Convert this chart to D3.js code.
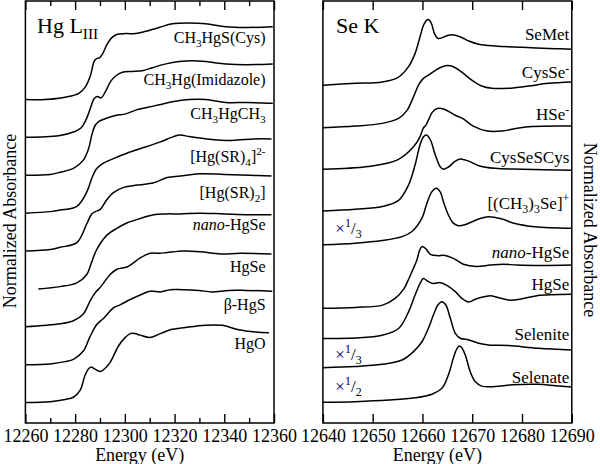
<!DOCTYPE html>
<html><head><meta charset="utf-8">
<script src="https://cdn.jsdelivr.net/npm/d3@7"></script>
<style>
body{margin:0;background:#fff}
svg{display:block}
text{font-family:"Liberation Serif","Times New Roman",Times,serif;fill:#000}
</style>
</head><body>
<svg id="c" width="600" height="464"></svg>
<script>
// ---------------- Hg L_III panel data: [energy (eV), normalized absorbance] ----------------
const hgCys   = [[12260,0],[12268,0.00],[12276,0.03],[12281.5,0.08],[12284.2,0.17],[12286.2,0.32],[12287.6,0.50],[12288.6,0.54],[12289.8,0.55],[12291,0.60],[12292.9,0.73],[12294.9,0.82],[12297,0.86],[12300.3,0.87],[12304.4,0.87],[12308.4,0.90],[12313.8,0.95],[12319.1,1.00],[12325.9,1.01],[12332.6,1.00],[12340.6,0.96],[12348.7,0.95],[12359.5,0.96]];
const hgImid  = [[12260,0],[12273.4,0.02],[12279.3,0.07],[12282.2,0.12],[12284.2,0.22],[12286.2,0.39],[12287.6,0.51],[12288.9,0.54],[12290.4,0.52],[12292.3,0.61],[12294.3,0.74],[12296.3,0.81],[12299,0.86],[12303,0.87],[12307,0.88],[12311.1,0.92],[12316.5,0.97],[12321.8,1.00],[12327.2,1.01],[12332.6,1.00],[12340.6,0.97],[12348.7,0.96],[12359.5,0.97]];
const hgMe2   = [[12260,0],[12270,0.01],[12274,0.04],[12279.3,0.09],[12283.3,0.20],[12285.4,0.35],[12286.7,0.53],[12288.1,0.66],[12289.6,0.71],[12292.3,0.75],[12296.3,0.79],[12300.3,0.81],[12304.4,0.86],[12308.4,0.89],[12313.8,0.93],[12319.1,0.97],[12325.9,1.00],[12332.6,1.00],[12340.6,0.96],[12348.7,0.96],[12359.5,0.95]];
const hgSR4   = [[12260,0],[12270,0.02],[12274,0.04],[12280.7,0.09],[12284.7,0.28],[12286.7,0.46],[12288.7,0.59],[12291.4,0.66],[12295.4,0.72],[12300.8,0.79],[12308.9,0.88],[12314.3,0.94],[12319.6,1.01],[12322.3,1.03],[12326,1.01],[12333,0.98],[12343,0.96],[12352,0.98],[12359,0.98]];
const hgSR2   = [[12260,0],[12270,0.02],[12274,0.05],[12280.7,0.11],[12284.7,0.36],[12286.7,0.49],[12288.1,0.52],[12290.1,0.55],[12292.8,0.68],[12295.4,0.77],[12299.5,0.84],[12304.9,0.87],[12311.6,0.90],[12317,0.97],[12322.3,0.99],[12330,1.02],[12340,1.01],[12350,1.00],[12359,0.99]];
const hgNano  = [[12265.2,0],[12274,0.03],[12280.7,0.08],[12284.7,0.19],[12286.3,0.32],[12288.7,0.52],[12292.8,0.71],[12296.8,0.80],[12300.8,0.87],[12306.2,0.93],[12311.6,0.98],[12317,0.99],[12322.3,0.99],[12330,1.00],[12340,0.99],[12350,0.98],[12359,0.98]];
const hgSe    = [[12260,0],[12274,0.04],[12279.3,0.08],[12283.3,0.17],[12286,0.34],[12288.1,0.45],[12290.1,0.52],[12294.1,0.69],[12296.8,0.76],[12300.8,0.79],[12302.9,0.83],[12306.2,0.91],[12310.2,0.97],[12314,0.97],[12317,0.98],[12323.7,1.00],[12330.4,0.99],[12338.5,0.96],[12346.5,0.97],[12359,0.96]];
const hgBetaS = [[12260,0],[12270,0.01],[12276,0.04],[12279.3,0.07],[12283.3,0.18],[12286,0.37],[12288.7,0.53],[12291.4,0.61],[12295.4,0.75],[12298.1,0.79],[12302.2,0.86],[12306.2,0.92],[12310.2,0.97],[12314.3,0.96],[12318.3,0.99],[12323,0.99],[12329.7,0.98],[12335,0.96],[12341.8,0.98],[12348.5,0.98],[12359.3,0.97]];
const hgO     = [[12260,0],[12270,0.01],[12276,0.04],[12279.3,0.07],[12282,0.16],[12284,0.36],[12285.5,0.45],[12286.5,0.47],[12288,0.44],[12290.1,0.41],[12292,0.45],[12294.1,0.53],[12297.5,0.75],[12300.2,0.86],[12302.2,0.91],[12304,0.91],[12306.2,0.89],[12310.2,0.86],[12314.3,0.91],[12318.3,0.96],[12324.4,0.99],[12332.4,1.02],[12339.2,1.02],[12345.8,0.96],[12352.6,0.93],[12358,0.92]];

const hgSeries  = [hgCys, hgImid, hgMe2, hgSR4, hgSR2, hgNano, hgSe, hgBetaS, hgO];
const hgLabels  = ["CH_{3}HgS(Cys)","CH_{3}Hg(Imidazole)","CH_{3}HgCH_{3}","[Hg(SR)_{4}]^{2-}","[Hg(SR)_{2}]","*nano*-HgSe","HgSe","β-HgS","HgO"];
const hgOffsets = [4.0, 3.5, 3.0, 2.5, 2.0, 1.5, 1.0, 0.5, 0.0];
const hgTicksMajor = [12260,12280,12300,12320,12340,12360];
const hgTicksMinor = [12270,12290,12310,12330,12350];

// ---------------- Se K panel data ----------------
const seMet   = [[12640,0],[12646.5,0.04],[12651.9,0.07],[12655.2,0.18],[12657.2,0.41],[12658.5,0.70],[12659.5,1.07],[12660.2,1.33],[12660.8,1.44],[12661.2,1.46],[12661.8,1.37],[12662.4,1.15],[12663.1,1.04],[12663.9,1.05],[12665.2,1.11],[12666.6,1.11],[12667.9,1.06],[12669.3,0.98],[12671.3,0.91],[12674.6,0.87],[12680,0.84],[12686.7,0.81],[12690,0.80]];
const seCysSe = [[12640,0],[12646.5,0.04],[12651.9,0.10],[12655.2,0.21],[12656.9,0.39],[12658.2,0.69],[12659.2,0.95],[12660.2,1.10],[12661.2,1.17],[12662.6,1.28],[12664.6,1.38],[12666.2,1.36],[12667.9,1.24],[12669.9,1.06],[12671.9,0.93],[12673.9,0.88],[12677.3,0.88],[12681.3,0.93],[12685.3,0.99],[12690,1.02]];
const seHSe   = [[12640,0],[12649,0.06],[12655,0.21],[12658.2,0.50],[12659.5,0.72],[12660.2,0.92],[12660.7,0.98],[12661.3,1.12],[12662,1.27],[12663,1.35],[12664.5,1.33],[12666.6,1.20],[12668.2,1.12],[12670.2,0.96],[12673,0.85],[12676,0.85],[12679,0.91],[12682,0.95],[12690,0.96]];
const seCysSeSCys = [[12640,0],[12646.5,0.04],[12651.9,0.10],[12655.2,0.24],[12657.2,0.58],[12658.5,1.02],[12659.5,1.47],[12660.2,1.65],[12660.8,1.69],[12661.6,1.58],[12662.6,1.24],[12663.6,0.98],[12664.2,0.93],[12665.2,0.98],[12666.6,1.11],[12667.6,1.16],[12669.3,1.11],[12671.3,1.01],[12674.6,0.95],[12680,0.93],[12690,0.91]];
const seMe3Se = [[12640,0],[12646.5,0.11],[12651.9,0.29],[12655.9,0.55],[12657.9,0.89],[12659.9,1.78],[12660.9,2.78],[12661.9,3.55],[12662.8,3.78],[12663.6,3.51],[12664.2,2.89],[12665.2,2.0],[12666.2,1.45],[12667.2,1.28],[12668.6,1.35],[12671.3,1.72],[12673.3,1.88],[12676,1.72],[12678.6,1.42],[12682.6,1.2],[12690,1.1]];
const seNano  = [[12640,0],[12646.5,0.02],[12652,0.07],[12654.5,0.22],[12656.2,0.42],[12657.2,0.64],[12658,0.84],[12658.9,1.08],[12659.4,1.28],[12659.9,1.37],[12660.6,1.33],[12661.6,1.20],[12663,1.17],[12664.3,1.18],[12666.2,1.11],[12668.2,0.98],[12670.9,0.93],[12673.6,0.96],[12676.2,0.98],[12679,0.96],[12684,0.95],[12690,0.96]];
const seHgSe  = [[12640,0],[12646.5,0.01],[12651.9,0.07],[12655.2,0.22],[12657.2,0.59],[12658.5,0.96],[12659.5,1.22],[12660.2,1.33],[12661.1,1.27],[12662.2,1.22],[12663.6,1.24],[12664.9,1.18],[12666.6,1.04],[12667.9,0.89],[12669.3,0.81],[12670.6,0.87],[12672.6,0.93],[12673.6,0.95],[12675.5,0.90],[12677.6,0.85],[12680,0.88],[12683,0.95],[12690,0.98]];
const seSelenite = [[12640,0],[12646.5,0.07],[12651.9,0.22],[12655.9,0.51],[12658.2,1.07],[12659.9,1.73],[12661.2,2.63],[12662.2,3.51],[12663.1,4.18],[12663.9,4.40],[12664.7,4.18],[12665.6,3.29],[12666.6,2.29],[12667.6,1.96],[12669.3,1.85],[12671.3,1.63],[12673.3,1.51],[12677.3,1.47],[12683.3,1.29],[12690,1.18]];
const seSelenate = [[12640,0],[12646.5,0.03],[12653.2,0.10],[12658.5,0.20],[12661.9,0.36],[12663.9,0.62],[12665.2,1.21],[12666.2,1.96],[12666.9,2.37],[12667.4,2.50],[12667.9,2.43],[12668.6,2.10],[12669.6,1.36],[12670.6,0.92],[12671.9,0.72],[12674.6,0.70],[12678,0.78],[12683.3,0.80],[12686.7,0.74],[12690,0.68]];

const seSeries  = [seMet, seCysSe, seHSe, seCysSeSCys, seMe3Se, seNano, seHgSe, seSelenite, seSelenate];
const seLabels  = ["SeMet","CysSe^{-}","HSe^{-}","CysSeSCys","[(CH_{3})_{3}Se]^{+}","*nano*-HgSe","HgSe","Selenite","Selenate"];
const seOffsets = [7.05, 6.10, 5.18, 4.25, 3.50, 2.09, 1.42, 0.77, 0.0];
const seScale   = [1, 1, 1, 1, 1/3, 1, 1, 1/3, 1/2];
const seScaleText = {"3":"×^{1}/_{3}","2":"×^{1}/_{2}"};
const seTicksMajor = [12640,12650,12660,12670,12680,12690];

// ---------------- layout ----------------
const FONT = '"Liberation Serif","Times New Roman",Times,serif';
const svg = d3.select("#c");
const TOP = 1, BOTTOM = 423;
const xL = d3.scaleLinear().domain([12260,12360]).range([25.4,274]);
const xR = d3.scaleLinear().domain([12640,12690]).range([322.9,571.8]);
const yL = d3.scaleLinear().domain([-0.27,5.3]).range([BOTTOM,TOP]);
const yR = d3.scaleLinear().domain([-0.46,8.92]).range([BOTTOM,TOP]);

// label placement levels (in y-data units) – layout only
const hgLabelLevel = [4.75,4.19,3.74,3.18,2.70,2.28,1.72,1.22,0.71];
const seLabelLevel = [8.05,7.20,6.27,5.32,4.30,3.20,2.50,1.38,0.44];
const seFactorLevel = {4:3.74, 7:0.94, 8:0.24};

function txt(g){ return g.append('text').attr('font-family',FONT).attr('fill','#000'); }

function rich(t, s, fs){
  const parts = s.split(/(_\{[^}]*\}|\^\{[^}]*\}|\*[^*]*\*)/).filter(p=>p.length);
  let shift = 0;
  parts.forEach(p=>{
    let tx=p, dy=0, size=fs, italic=false;
    if(p.startsWith('_{')){tx=p.slice(2,-1); dy=0.25*fs; size=0.7*fs;}
    else if(p.startsWith('^{')){tx=p.slice(2,-1); dy=-0.4*fs; size=0.7*fs;}
    else if(p.startsWith('*')){tx=p.slice(1,-1); italic=true;}
    const ts=t.append('tspan').text(tx).attr('font-size',size).attr('dy',dy-shift);
    if(italic) ts.attr('font-style','italic');
    shift=dy;
  });
}

function axes(x, majors, minors){
  const fmt = d3.format('d');
  const gb = svg.append('g').attr('transform',`translate(0,${BOTTOM})`)
    .call(d3.axisBottom(x).tickValues(majors).tickSizeInner(-9).tickSizeOuter(0).tickPadding(6).tickFormat(fmt));
  gb.attr('font-family',FONT).attr('font-size',18);
  gb.select('.domain').remove();
  gb.selectAll('text').attr('font-family',FONT).attr('font-size',18).attr('fill','#000');
  const gt = svg.append('g').attr('transform',`translate(0,${TOP})`)
    .call(d3.axisTop(x).tickValues(majors).tickSizeInner(-9).tickSizeOuter(0).tickFormat(''));
  gt.select('.domain').remove();
  gt.selectAll('text').remove();
  if(minors){
    const gbm = svg.append('g').attr('transform',`translate(0,${BOTTOM})`)
      .call(d3.axisBottom(x).tickValues(minors).tickSizeInner(-5).tickSizeOuter(0).tickFormat(''));
    gbm.select('.domain').remove();
    gbm.selectAll('text').remove();
    const gtm = svg.append('g').attr('transform',`translate(0,${TOP})`)
      .call(d3.axisTop(x).tickValues(minors).tickSizeInner(-5).tickSizeOuter(0).tickFormat(''));
    gtm.select('.domain').remove();
    gtm.selectAll('text').remove();
  }
  svg.selectAll('.tick line').attr('stroke','#000').attr('stroke-width',1.4);
  const [a,b] = x.range();
  svg.append('rect').attr('x',a).attr('y',TOP).attr('width',b-a).attr('height',BOTTOM-TOP)
    .attr('fill','none').attr('stroke','#000').attr('stroke-width',1.5);
  txt(svg).attr('x',(a+b)/2-10).attr('y',461).attr('text-anchor','middle').attr('font-size',18).text('Energy (eV)');
}

axes(xL, hgTicksMajor, hgTicksMinor);
axes(xR, seTicksMajor, null);

// curves
const lineL = (off)=>d3.line().x(d=>xL(d[0])).y(d=>yL(off+d[1])).curve(d3.curveCatmullRom.alpha(0.5));
const lineR = (off,sc)=>d3.line().x(d=>xR(d[0])).y(d=>yR(off+sc*d[1])).curve(d3.curveCatmullRom.alpha(0.5));

hgSeries.forEach((s,i)=>{
  svg.append('path').attr('d',lineL(hgOffsets[i])(s)).attr('fill','none').attr('stroke','#000').attr('stroke-width',1.5);
  const t = txt(svg).attr('x',xL(12356.6)).attr('y',yL(hgLabelLevel[i])).attr('text-anchor','end').attr('font-size',16);
  rich(t, hgLabels[i], 16);
});
seSeries.forEach((s,i)=>{
  svg.append('path').attr('d',lineR(seOffsets[i],seScale[i])(s)).attr('fill','none').attr('stroke','#000').attr('stroke-width',1.5);
  const t = txt(svg).attr('x',xR(12689.5)).attr('y',yR(seLabelLevel[i])).attr('text-anchor','end').attr('font-size',17);
  rich(t, seLabels[i], 17);
  if(seScale[i] !== 1){
    const f = txt(svg).attr('x',xR(12642.5)).attr('y',yR(seFactorLevel[i])).attr('font-size',17);
    rich(f, seScaleText[String(Math.round(1/seScale[i]))], 17);
  }
});

// titles
rich(txt(svg).attr('x',37).attr('y',33).attr('font-size',22), 'Hg L_{III}', 22);
rich(txt(svg).attr('x',336).attr('y',33).attr('font-size',22), 'Se K', 22);

// y-axis labels
txt(svg).attr('transform','translate(16,221) rotate(-90)').attr('text-anchor','middle').attr('font-size',18).text('Normalized Absorbance');
txt(svg).attr('transform','translate(584,230) rotate(90)').attr('text-anchor','middle').attr('font-size',18).text('Normalized Absorbance');
</script>
</body></html>
